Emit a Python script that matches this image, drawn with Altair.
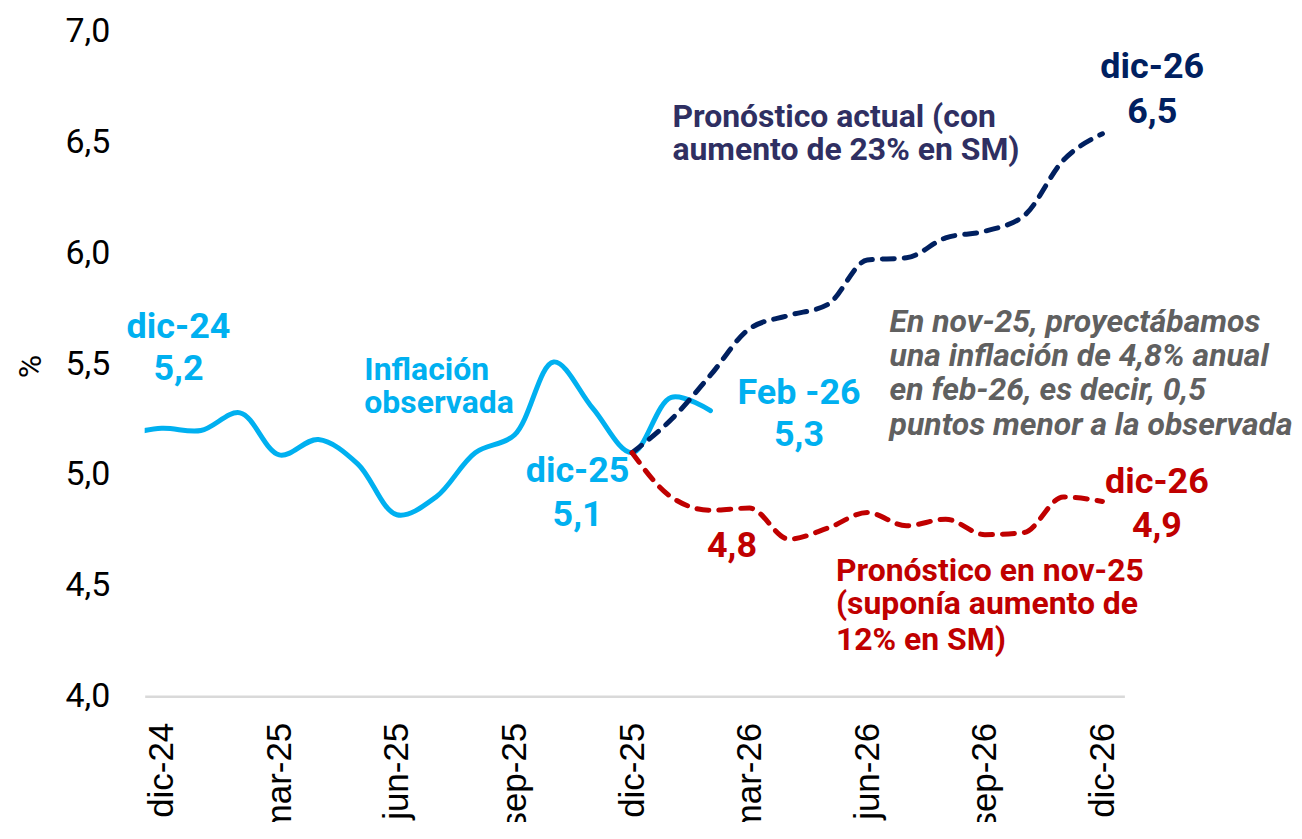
import altair as alt
import pandas as pd

# ---------------- data ----------------
# month index: -1 = nov-24, 0 = dic-24, 12 = dic-25, 24 = dic-26
obs_idx = list(range(-1, 15))
observed = [5.18, 5.21, 5.20, 5.28, 5.09, 5.16, 5.05, 4.82, 4.90, 5.10, 5.18, 5.51, 5.30, 5.10, 5.35, 5.29]

fc_idx = list(range(12, 25))
fc_actual = [5.10, 5.25, 5.45, 5.66, 5.72, 5.77, 5.97, 5.98, 6.07, 6.10, 6.17, 6.42, 6.54]
fc_nov25 = [5.10, 4.90, 4.84, 4.85, 4.71, 4.76, 4.83, 4.77, 4.80, 4.73, 4.74, 4.90, 4.88]

tick_pos = [0, 3, 6, 9, 12, 15, 18, 21, 24]
tick_labels = ["dic-24", "mar-25", "jun-25", "sep-25", "dic-25", "mar-26", "jun-26", "sep-26", "dic-26"]
y_ticks = [4.0, 4.5, 5.0, 5.5, 6.0, 6.5, 7.0]

# annotations (anchor in data units: month index, %)
lab_obs_x = [0.43, 0.43, 10.61, 10.61, 16.26, 16.26]
lab_obs_y = [5.62, 5.43, 4.97, 4.77, 5.32, 5.13]
lab_obs_t = ["dic-24", "5,2", "dic-25", "5,1", "Feb -26", "5,3"]

infl_x = [5.17, 5.17]
infl_y = [5.43, 5.28]
infl_t = ["Inflación", "observada"]

act_x = [13.03, 13.03]
act_y = [6.57, 6.42]
act_t = ["Pronóstico actual (con", "aumento de 23% en SM)"]

navy_lab_x = [25.27, 25.27]
navy_lab_y = [6.79, 6.59]
navy_lab_t = ["dic-26", "6,5"]

gray_x = [18.57, 18.57, 18.57, 18.57]
gray_y = [5.644, 5.491, 5.338, 5.180]
gray_t = ["En nov-25, proyectábamos", "una inflación de 4,8% anual",
          "en feb-26, es decir, 0,5", "puntos menor a la observada"]

red_lab_x = [14.55, 25.39, 25.39]
red_lab_y = [4.63, 4.92, 4.72]
red_lab_t = ["4,8", "dic-26", "4,9"]

red_ann_x = [17.2, 17.2, 17.2]
red_ann_y = [4.52, 4.37, 4.21]
red_ann_t = ["Pronóstico en nov-25", "(suponía aumento de", "12% en SM)"]

# ---------------- chart ----------------
LIGHT = "#00B0F0"
NAVY = "#002060"
RED = "#C00000"
GRAY = "#606060"
PURPLE = "#2F2F62"

xscale = alt.Scale(domain=[-0.433, 24.56], nice=False, zero=False)
yscale = alt.Scale(domain=[4.0, 7.0], nice=False, zero=False)

label_expr_x = "[" + ",".join("'" + t + "'" for t in tick_labels) + "][round(datum.value/3)]"

X = alt.X("x:Q", scale=xscale,
          axis=alt.Axis(values=tick_pos, labelExpr=label_expr_x, title=None,
                        labelAngle=270, labelFont="Liberation Sans", labelFontSize=35,
                        labelColor="#000000", labelPadding=26, ticks=False, tickSize=0,
                        grid=False, domain=True, domainColor="#D9D9D9", domainWidth=2.5))
Y = alt.Y("y:Q", scale=yscale,
          axis=alt.Axis(values=y_ticks,
                        labelExpr="replace(format(datum.value, '.1f'), '.', ',')",
                        title="%", titleFont="Roboto", titleFontSize=32, titleFontWeight="normal",
                        titleColor="#000000", titleAngle=270, titleX=-114, titleY=335,
                        titleAlign="center", titleBaseline="middle",
                        labelFont="Roboto", labelFontSize=34, labelColor="#000000",
                        labelPadding=35, ticks=False, tickSize=0, grid=False, domain=False))

df_obs = pd.DataFrame({"x": obs_idx, "y": observed})
df_act = pd.DataFrame({"x": fc_idx, "y": fc_actual})
df_nov = pd.DataFrame({"x": fc_idx, "y": fc_nov25})

line_obs = alt.Chart(df_obs).mark_line(color=LIGHT, strokeWidth=5, interpolate="catmull-rom",
                                       clip=True, strokeCap="round").encode(x=X, y=Y)
line_act = alt.Chart(df_act).mark_line(color=NAVY, strokeWidth=5, interpolate="monotone",
                                       strokeDash=[12, 10], strokeCap="round").encode(x=X, y=Y)
line_nov = alt.Chart(df_nov).mark_line(color=RED, strokeWidth=5, interpolate="monotone",
                                       strokeDash=[12, 10], strokeCap="round").encode(x=X, y=Y)


def text_layer(xs, ys, ts, color, size, align, style="normal"):
    d = pd.DataFrame({"x": xs, "y": ys, "t": ts})
    return alt.Chart(d).mark_text(font="Roboto", fontWeight="bold", fontSize=size, color=color,
                                  align=align, baseline="alphabetic", fontStyle=style).encode(
        x=X, y=Y, text="t:N")


texts = [
    text_layer(lab_obs_x, lab_obs_y, lab_obs_t, LIGHT, 36, "center"),
    text_layer(infl_x, infl_y, infl_t, LIGHT, 32, "left"),
    text_layer(act_x, act_y, act_t, PURPLE, 32, "left"),
    text_layer(navy_lab_x, navy_lab_y, navy_lab_t, NAVY, 36, "center"),
    text_layer(gray_x, gray_y, gray_t, GRAY, 32, "left", "italic"),
    text_layer(red_lab_x, red_lab_y, red_lab_t, RED, 36, "center"),
    text_layer(red_ann_x, red_ann_y, red_ann_t, RED, 32, "left"),
]

chart = alt.layer(line_obs, line_act, line_nov, *texts).properties(
    width=982, height=666,
    background="#FFFFFF",
    padding={"left": 137, "top": 23, "right": 170, "bottom": 125},
    autosize=alt.AutoSizeParams(type="none"),
).configure_view(stroke=None, strokeWidth=0)

chart.save("out.html", embed_options={"renderer": "svg", "actions": False})
